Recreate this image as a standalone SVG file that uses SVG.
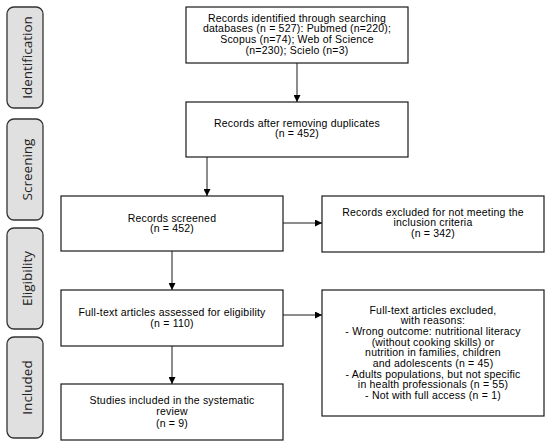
<svg xmlns="http://www.w3.org/2000/svg" width="550" height="448" viewBox="0 0 550 448">
<defs>
<marker id="ah" viewBox="0 0 10 10" refX="10" refY="5" markerWidth="7" markerHeight="7" markerUnits="userSpaceOnUse" orient="auto"><path d="M0,0 L10,5 L0,10 z" fill="#000"/></marker>
<style>
.box{fill:#fff;stroke:#1a1a1a;stroke-width:1.2}
.side{fill:#e0e0e0;stroke:#333;stroke-width:1.3}
.t{font-family:"Liberation Sans",Arial,sans-serif;font-size:10.5px;letter-spacing:0.2px;fill:#000;text-anchor:middle}
.s{font-family:"Open Sans","Liberation Sans",sans-serif;font-size:13.5px;fill:#222;text-anchor:middle}
.c{stroke:#1a1a1a;stroke-width:1;fill:none;marker-end:url(#ah)}
</style>
</defs>
<g id="side-identification"><rect class="side" x="7" y="7" width="36" height="101" rx="7"/><text class="s" transform="translate(31.5,57.5) rotate(-90)">Identification</text></g>
<g id="side-screening"><rect class="side" x="7" y="119" width="36" height="101" rx="7"/><text class="s" transform="translate(31.5,169.5) rotate(-90)">Screening</text></g>
<g id="side-eligibility"><rect class="side" x="7" y="228" width="36" height="101" rx="7"/><text class="s" transform="translate(31.5,278.5) rotate(-90)">Eligibility</text></g>
<g id="side-included"><rect class="side" x="7" y="337" width="36" height="101" rx="7"/><text class="s" transform="translate(31.5,387.5) rotate(-90)">Included</text></g>

<g id="connectors">
<line class="c" x1="297" y1="63" x2="297" y2="102"/>
<line class="c" x1="207" y1="157" x2="207" y2="196"/>
<line class="c" x1="283" y1="223" x2="322" y2="223"/>
<line class="c" x1="172" y1="251" x2="172" y2="290"/>
<line class="c" x1="283" y1="315" x2="322" y2="315"/>
<line class="c" x1="172" y1="346" x2="172" y2="384"/>
</g>

<g id="n-identified"><rect class="box" x="186" y="7" width="222" height="56"/>
<text class="t" x="297" y="21.5">Records identified through searching</text>
<text class="t" x="297" y="32.3">databases (n = 527): Pubmed (n=220);</text>
<text class="t" x="297" y="43.1">Scopus (n=74); Web of Science</text>
<text class="t" x="297" y="53.9">(n=230); Scielo (n=3)</text></g>

<g id="n-duplicates"><rect class="box" x="186" y="102" width="222" height="55"/>
<text class="t" x="297" y="126.5">Records after removing duplicates</text>
<text class="t" x="297" y="137.2">(n = 452)</text></g>

<g id="n-screened"><rect class="box" x="61" y="196" width="222" height="55"/>
<text class="t" x="172" y="221.5">Records screened</text>
<text class="t" x="172" y="232.4">(n = 452)</text></g>

<g id="n-excluded1"><rect class="box" x="322" y="196" width="222" height="56"/>
<text class="t" x="433" y="215.5">Records excluded for not meeting the</text>
<text class="t" x="433" y="226.2">inclusion criteria</text>
<text class="t" x="433" y="236.9">(n = 342)</text></g>

<g id="n-fulltext"><rect class="box" x="61" y="290" width="222" height="56"/>
<text class="t" x="172" y="315.5">Full-text articles assessed for eligibility</text>
<text class="t" x="172" y="326.5">(n = 110)</text></g>

<g id="n-excluded2"><rect class="box" x="322" y="290" width="222" height="126"/>
<text class="t" x="433" y="313.5">Full-text articles excluded,</text>
<text class="t" x="433" y="324.2">with reasons:</text>
<text class="t" x="433" y="334.8">- Wrong outcome: nutritional literacy</text>
<text class="t" x="433" y="345.5">(without cooking skills) or</text>
<text class="t" x="433" y="356.1">nutrition in families, children</text>
<text class="t" x="433" y="366.8">and adolescents (n = 45)</text>
<text class="t" x="433" y="377.5">- Adults populations, but not specific</text>
<text class="t" x="433" y="388.1">in health professionals (n = 55)</text>
<text class="t" x="433" y="398.8">- Not with full access (n = 1)</text></g>

<g id="n-included"><rect class="box" x="61" y="384" width="222" height="56"/>
<text class="t" x="172" y="404">Studies included in the systematic</text>
<text class="t" x="172" y="415">review</text>
<text class="t" x="172" y="426.5">(n = 9)</text></g>
</svg>
